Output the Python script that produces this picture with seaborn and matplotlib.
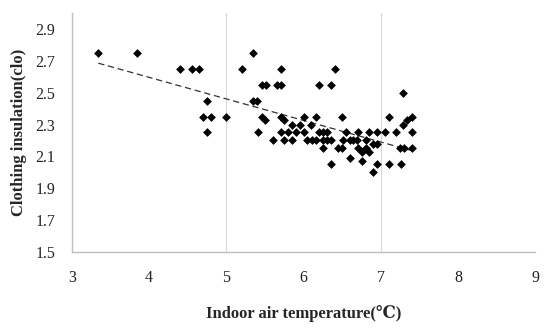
import numpy as np
import pandas as pd
import matplotlib
matplotlib.use('Agg')
import matplotlib.pyplot as plt
import seaborn as sns

# Clothing insulation levels (clo) and the indoor temperatures (°C) read at each level
clo_275 = [3.34, 3.84, 5.34]
clo_265 = [4.40, 4.55, 4.65, 5.20, 5.71, 6.41]
clo_255 = [5.46, 5.51, 5.66, 5.71, 6.20, 6.35]
clo_250 = [7.29]
clo_245 = [4.75, 5.34, 5.40]
clo_235 = [4.70, 4.80, 5.00, 5.46, 5.71, 6.00, 6.16, 6.50, 7.11, 7.40]
clo_233 = [5.50, 5.75, 7.34]
clo_230 = [5.85, 5.95, 6.10, 7.29]
clo_225 = [4.75, 5.41, 5.71, 5.80, 5.90, 6.00, 6.20, 6.25, 6.30, 6.55, 6.70,
           6.85, 6.95, 7.05, 7.20, 7.40]
clo_220 = [5.60, 5.75, 5.85, 6.04, 6.11, 6.16, 6.25, 6.30, 6.35, 6.51, 6.60,
           6.64, 6.69, 6.81]
clo_218 = [6.90, 6.95]
clo_215 = [6.25, 6.45, 6.50, 6.70, 6.81, 7.25, 7.30, 7.40]
clo_213 = [6.76, 6.85]
clo_209 = [6.60]
clo_207 = [6.76]
clo_205 = [6.35, 6.95, 7.11, 7.26]
clo_200 = [6.90]

levels = {2.75: clo_275, 2.65: clo_265, 2.55: clo_255, 2.50: clo_250,
          2.45: clo_245, 2.35: clo_235, 2.33: clo_233, 2.30: clo_230,
          2.25: clo_225, 2.20: clo_220, 2.18: clo_218, 2.15: clo_215,
          2.13: clo_213, 2.09: clo_209, 2.07: clo_207, 2.05: clo_205,
          2.00: clo_200}

rows = [(t, c) for c, temps in levels.items() for t in temps]
df = pd.DataFrame(rows, columns=['temp', 'clo'])

x_ticks = [3, 4, 5, 6, 7, 8, 9]
y_ticks = [1.5, 1.7, 1.9, 2.1, 2.3, 2.5, 2.7, 2.9]

sns.set_style('white')
plt.rcParams['font.family'] = ['Liberation Serif', 'DejaVu Serif']

fig = plt.figure(figsize=(5.5, 3.32), dpi=100)
ax = fig.add_axes([0.131, 0.241, 0.842, 0.72])

for gx in [5, 7]:
    ax.axvline(gx, color='#d9d9d9', lw=0.8, zorder=0)

sns.scatterplot(data=df, x='temp', y='clo', marker='D', color='black',
                s=20, edgecolor='black', linewidth=0, ax=ax, zorder=3)

# linear trend line
k, b = np.polyfit(df['temp'], df['clo'], 1)
xs = np.array([df['temp'].min(), df['temp'].max()])
ax.plot(xs, k * xs + b, color='#333333', lw=0.9, ls=(0, (5, 3)), zorder=2)

ax.set_xlim(3, 9)
ax.set_ylim(1.5, 3.0)
ax.set_xticks(x_ticks)
ax.set_yticks(y_ticks)
ax.set_xticklabels([str(v) for v in x_ticks], fontsize=11.5)
ax.set_yticklabels([f'{v:.1f}' for v in y_ticks], fontsize=11.5)
ax.tick_params(axis='x', length=0, pad=13, colors='#222222')
ax.tick_params(axis='y', length=0, pad=12, colors='#222222')

sns.despine(ax=ax)
for side in ['left', 'bottom']:
    ax.spines[side].set_color('#bfbfbf')
    ax.spines[side].set_linewidth(1)

ax.set_xlabel('Indoor air temperature(℃)', fontsize=12, fontweight='bold', labelpad=14)
ax.set_ylabel('Clothing insulation(clo)', fontsize=12, fontweight='bold', labelpad=6)

fig.savefig('out.png', dpi=100)
